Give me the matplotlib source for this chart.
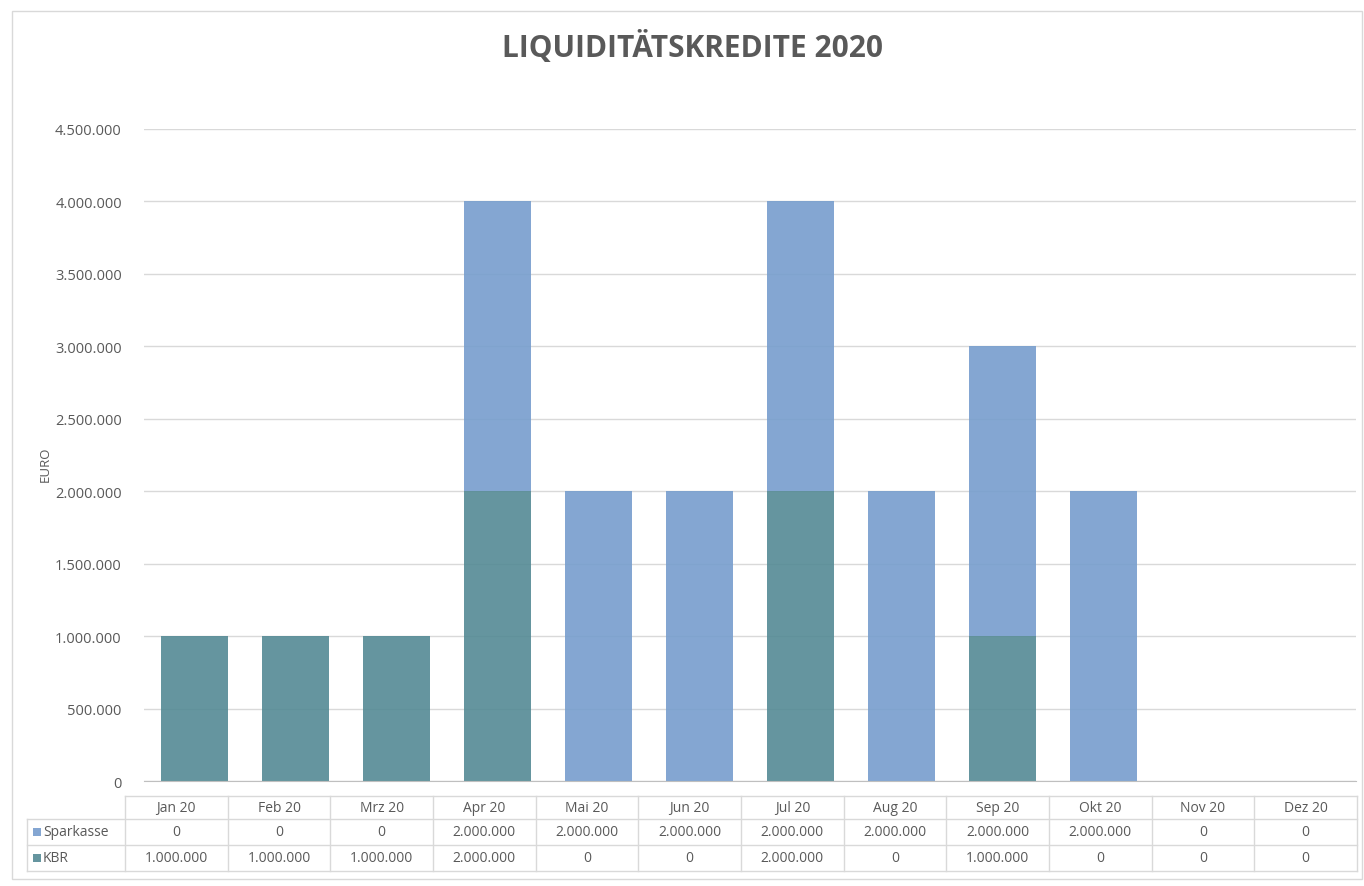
import numpy as np
import matplotlib.pyplot as plt
from matplotlib.patches import Rectangle

# data
months = ['Jan 20', 'Feb 20', 'Mrz 20', 'Apr 20', 'Mai 20', 'Jun 20',
          'Jul 20', 'Aug 20', 'Sep 20', 'Okt 20', 'Nov 20', 'Dez 20']
sparkasse = [0, 0, 0, 2000000, 2000000, 2000000, 2000000, 2000000, 2000000, 2000000, 0, 0]
kbr = [1000000, 1000000, 1000000, 2000000, 0, 0, 2000000, 0, 1000000, 0, 0, 0]
yticks = np.arange(0, 4500001, 500000)

# slightly transparent fills like the original
c_spk = '#779dcd'
c_kbr = '#548a95'
txt = '#595959'
grid = '#d9d9d9'

plt.rcParams['font.family'] = ['Open Sans', 'DejaVu Sans']

W, H = 1364, 887
fig = plt.figure(figsize=(W / 100, H / 100), dpi=100)

def fx(px):
    return px / W

def fy(py):
    return 1 - py / H

def fmt(v):
    return f'{v:,.0f}'.replace(',', '.')

# chart border
fig.add_artist(Rectangle((fx(12), fy(880)), fx(1350), 868 / H, transform=fig.transFigure,
                         fill=False, edgecolor='#d9d9d9', linewidth=1))

ax = fig.add_axes([fx(144), fy(782), fx(1356 - 144), (782 - 130) / H])
x = np.arange(len(months))
ax.bar(x, kbr, width=0.67, color=c_kbr, alpha=0.9, zorder=3)
ax.bar(x, sparkasse, width=0.67, bottom=kbr, color=c_spk, alpha=0.9, zorder=3)

ax.set_xlim(-0.5, len(months) - 0.5)
ax.set_ylim(0, 4500000)
ax.set_yticks(yticks)
ax.set_yticklabels([fmt(v) for v in yticks], color=txt, fontsize=10.5)
ax.tick_params(axis='y', length=0, pad=16)
ax.set_xticks([])
ax.grid(axis='y', color=grid, linewidth=1, zorder=0)
for s in ['top', 'right', 'left']:
    ax.spines[s].set_visible(False)
ax.spines['bottom'].set_color('#bfbfbf')
ax.spines['bottom'].set_zorder(4)

fig.text(fx(45), fy(464), 'EURO', rotation=90, ha='center', va='center', fontsize=9.5, color=txt)
fig.suptitle('LIQUIDITÄTSKREDITE 2020', x=fx(693), y=fy(47), va='center', fontsize=21.5,
             fontweight='bold', color=txt)

# data table
n = len(months)
t_left, t_right, lab_left = 125, 1357, 27
cw = (t_right - t_left) / n
rows_y = [797, 820, 846, 872]
lc = '#d9d9d9'
tf = fig.transFigure
fig.add_artist(plt.Line2D([fx(t_left), fx(t_right)], [fy(rows_y[0])] * 2, transform=tf, color=lc, lw=1))
for yy in rows_y[1:]:
    fig.add_artist(plt.Line2D([fx(lab_left), fx(t_right)], [fy(yy)] * 2, transform=tf, color=lc, lw=1))
for i in range(n + 1):
    xx = fx(t_left + i * cw)
    fig.add_artist(plt.Line2D([xx, xx], [fy(rows_y[0]), fy(rows_y[-1])], transform=tf, color=lc, lw=1))
fig.add_artist(plt.Line2D([fx(lab_left)] * 2, [fy(rows_y[1]), fy(rows_y[-1])], transform=tf, color=lc, lw=1))

yc = [(rows_y[k] + rows_y[k + 1]) / 2 for k in range(3)]
for i, m in enumerate(months):
    xc = fx(t_left + (i + 0.5) * cw)
    for k, s in enumerate([m, fmt(sparkasse[i]), fmt(kbr[i])]):
        fig.text(xc, fy(yc[k]), s, ha='center', va='center', fontsize=10, color=txt)

for k, (lab, col) in enumerate([('Sparkasse', c_spk), ('KBR', c_kbr)]):
    fig.add_artist(Rectangle((fx(33), fy(yc[k + 1] + 4)), fx(8), 8 / H, transform=tf,
                             facecolor=col, alpha=0.9, edgecolor='none'))
    fig.text(fx(43), fy(yc[k + 1]), lab, ha='left', va='center', fontsize=10, color=txt)

fig.savefig('out.png', dpi=100)
